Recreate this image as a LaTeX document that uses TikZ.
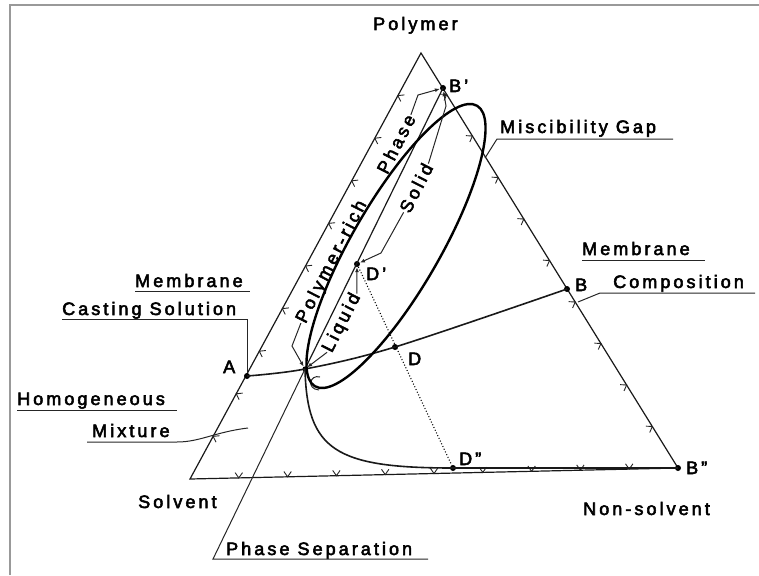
\documentclass[tikz,border=0pt]{standalone}
\usepackage{fontspec}
\setmainfont[LetterSpace=17,FakeBold=3]{Liberation Sans}
\usetikzlibrary{arrows.meta,calc}
\begin{document}
\begin{tikzpicture}[x=1pt,y=-1pt,
  lbl/.style={font=\fontsize{18}{20}\selectfont, inner sep=0pt, text=black},
  rlbl/.style={lbl, inner sep=1pt, rotate=63},
  edge/.style={line width=1.2pt, black!90},
  tick/.style={line width=0.9pt, black!85},
  thickc/.style={line width=1.6pt, black!90},
  lead/.style={line width=1pt, black!85},
  arr/.style={-{Latex[length=5pt,width=4pt]}},
  dot/.style={circle, fill=black, inner sep=0pt, minimum size=6pt},
  frame/.style={line width=1.5pt, black!40}]
\useasboundingbox (0,0) rectangle (759,575);
\draw[frame] (10,575) -- (10,5) -- (759,5);
% vertices
\coordinate (Ap) at (421,53);
\coordinate (S) at (190,479);
\coordinate (N) at (678,468);
% triangle
\draw[edge] (Ap) -- (S) -- (N) -- cycle;
% ticks
\foreach \k in {1,...,9}{
  \draw[tick] ($(S)!\k/10!(Ap)$) ++(6.5,-0.7) -- ++(-6.5,0.7) -- ++(2.9,5.8);
  \draw[tick] ($(S)!\k/10!(N)$) ++(3.7,-5.3) -- ++(-3.7,5.3) -- ++(-3.7,-5.3);
  \draw[tick] ($(Ap)!\k/10!(N)$) ++(-2.6,6) -- ++(2.6,-6) -- ++(-6.5,-0.35);
}
% points
\node[dot] (A) at (247,376) {};
\node[dot,minimum size=5pt] (P) at (305,369) {};
\node[dot] (D) at (395,347) {};
\node[dot] (B) at (567,289) {};
\node[dot] (Bp) at (443,88) {};
\node[dot] (Dp) at (357,264) {};
\node[dot] (Dpp) at (453,468) {};
\node[dot] (Bpp) at (678,468) {};
% composition path A-B
\draw[thickc] plot[smooth, tension=0.55] coordinates {(A.center) (P.center) (D.center) (B.center)};
% binodal
\draw[thickc] (P.center) .. controls (307,450) and (335,468) .. (Dpp.center) -- (Bpp.center);
\draw[lead] (320,377) .. controls (310,374) and (306,389) .. (319,390);
% tie line
\draw[edge] (P.center) -- (Bp.center);
% dotted
\draw[line width=1.1pt, dash pattern=on 1pt off 2pt] (Dp) -- (Dpp);
% phase separation line
\coordinate (psc) at (213,559);
\coordinate (psr) at (428,559);
\draw[lead] (P.center) -- (psc) -- (psr);
% ellipse
\draw[line width=2.4pt, rotate around={60:(396,246)}] (396,246) ellipse [x radius=162, y radius=44];
% rotated labels
\node[rlbl] (prp1) at (332,262) {Polymer-rich};
\node[rlbl] (prp2) at (396,144) {Phase};
\node[rlbl] (sol) at (416,188) {Solid};
\node[rlbl] (liq) at (342,323) {Liquid};
\coordinate (e1) at (292,346);
\coordinate (e2) at (418,95);
\coordinate (e3) at (446,106);
\coordinate (e4) at (381,253);
\draw[lead,arr] (prp1.west) -- (e1) -- (P);
\draw[lead,arr] (prp2.east) -- (e2) -- (Bp);
\draw[lead,arr] (sol.east) -- (e3) -- (Bp);
\draw[lead,arr] (sol.west) -- (e4) -- (Dp);
\draw[lead,arr] (liq.east) -- (Dp);
\draw[lead,arr] (liq.west) -- (P);
% labels
\node[lbl, anchor=base west] (tPoly) at (373,30) {Polymer};
\node[lbl, anchor=base west] (lBp) at (449,92) {B’};
\node[lbl, anchor=base west] (tMG) at (500,133) {Miscibility Gap};
\node[lbl, anchor=base west] (tMR) at (582,255) {Membrane};
\node[lbl, anchor=base west] (tComp) at (613,288) {Composition};
\node[lbl, anchor=base west] (lB) at (575,291) {B};
\node[lbl, anchor=base west] (tML) at (135,287) {Membrane};
\node[lbl, anchor=base west] (tCS) at (62,315) {Casting Solution};
\node[lbl, anchor=base west] (lA) at (223,373) {A};
\node[lbl, anchor=base west] (lDp) at (366,280) {D’};
\node[lbl, anchor=base west] (lD) at (408,365) {D};
\node[lbl, anchor=base west] (tHom) at (17,405) {Homogeneous};
\node[lbl, anchor=base west] (tMix) at (92,437) {Mixture};
\node[lbl, anchor=base west] (lDpp) at (459,465) {D”};
\node[lbl, anchor=base west] (lBpp) at (686,474) {B”};
\node[lbl, anchor=base west] (tSolv) at (138,508) {Solvent};
\node[lbl, anchor=base west] (tNon) at (583,515) {Non-solvent};
\node[lbl, anchor=base west] (tPS) at (226,555) {Phase Separation};
% leaders and underlines
\coordinate (mgL) at (497,139); \coordinate (mgR) at (673,139);
\coordinate (mgE) at (485,158);
\draw[lead] (mgE) -- (mgL) -- (mgR);
\draw[lead] (582,260) -- (705,260);
\coordinate (cpE) at (578,302); \coordinate (cpL) at (600,293); \coordinate (cpR) at (755,293);
\draw[lead] (cpE) -- (cpL) -- (cpR);
\draw[lead] (135,291) -- (250,291);
\coordinate (csL) at (62,319); \coordinate (csR) at (247,319);
\draw[lead] (csL) -- (csR) -- (A);
\draw[lead] (17,410) -- (177,410);
\coordinate (mxL) at (87,442); \coordinate (mxR) at (177,442); \coordinate (mxE) at (248,428);
\draw[lead] (mxL) -- (mxR) .. controls (200,442) and (215,432) .. (mxE);
\end{tikzpicture}
\end{document}
